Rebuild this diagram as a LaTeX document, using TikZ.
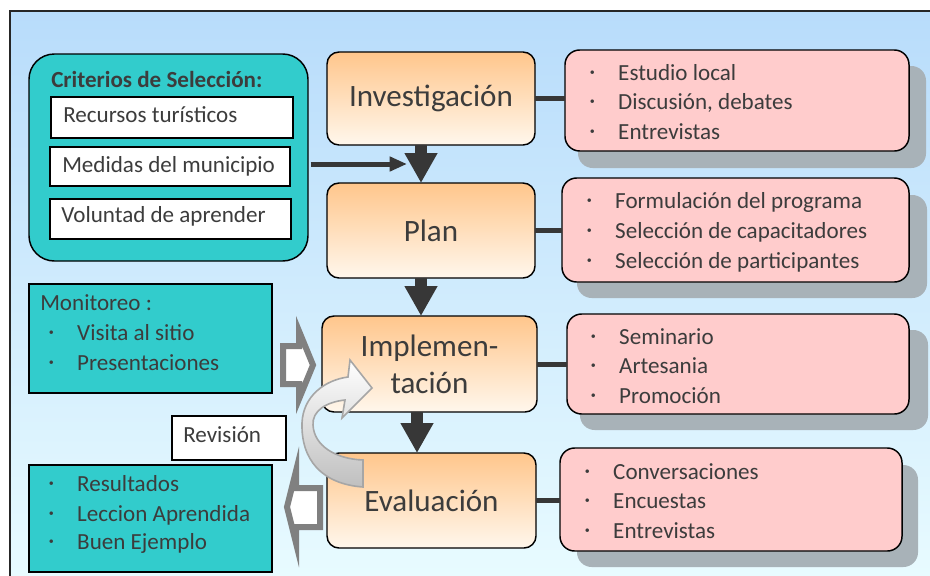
\documentclass[tikz,border=0pt]{standalone}
\usepackage{fontspec}
\setmainfont{Carlito}
\usetikzlibrary{arrows.meta}
\definecolor{teal1}{RGB}{50,204,204}
\definecolor{pink1}{RGB}{255,204,204}
\definecolor{shad}{RGB}{168,178,184}
\definecolor{orT}{RGB}{255,198,140}
\definecolor{orB}{RGB}{255,247,236}
\definecolor{bgT}{RGB}{184,220,251}
\definecolor{bgB}{RGB}{232,251,255}
\definecolor{txt}{RGB}{60,60,60}
\definecolor{dark}{RGB}{55,55,55}
\definecolor{blockgray}{RGB}{128,128,128}
\newcommand\bx[7]{\node[#2,minimum width={(#5-#3)*0.75pt},minimum height={(#6-#4)*0.75pt}] (#1) at ({(#3+#5)/2},{(#4+#6)/2}) {#7};}
\newcommand\bl{\makebox[21.2pt][l]{\raisebox{3.4pt}{\fontsize{7.5}{7.5}\selectfont\textbullet}}}
\newcommand\li[4]{\node[txtline] (#1) at ({#2-2.3},#3) {\bl #4};}
\tikzset{
  box/.style={inner sep=0pt, outer sep=0pt, draw=black, line width=1.1pt},
  critbox/.style={box, fill=teal1, rounded corners=19pt},
  whitebox/.style={box, fill=white, line width=1pt},
  orangebox/.style={box, rounded corners=9pt, top color=orT, bottom color=orB, text=txt, align=center, font=\fontsize{23.3}{27.5}\selectfont},
  pinkbox/.style={box, fill=pink1, rounded corners=11pt},
  shadowbox/.style={inner sep=0pt, outer sep=0pt, fill=shad, rounded corners=11pt},
  tealrect/.style={box, fill=teal1},
  txtline/.style={anchor=base west, inner sep=0pt, text=txt, font=\fontsize{17.3}{20}\selectfont},
  link/.style={draw=dark, line width=3.75pt},
  darrow/.style={draw=dark, line width=9pt, -{Triangle[length=22.5pt,width=23.25pt]}},
  crarrow/.style={draw=dark, line width=3.75pt, -{Triangle[length=13pt,width=10.5pt]}},
  blockarrow/.style={draw=blockgray, line width=4.5pt, fill=white, line join=miter},
  curvearrow/.style={draw=gray!70, line width=1.2pt, top color=white, bottom color=gray!50}
}
\begin{document}
\begin{tikzpicture}[x=0.75pt,y=-0.75pt]
\useasboundingbox (0,0) rectangle (930,575);
\fill[white] (0,0) rectangle (930,575);
\shade[top color=bgT, bottom color=bgB] (10,11) rectangle (932,577);
\draw[line width=1.5pt, black!85] (10,577) -- (10,11) -- (932,11);

% selection criteria
\bx{crit}{critbox}{29}{54}{308}{261}{}
\node[txtline, font=\fontsize{17.3}{20}\selectfont\bfseries] (crittitle) at (51,87) {Criterios de Selección:};
\bx{c1}{whitebox}{51}{97}{293}{138}{}
\node[txtline] (c1t) at (63,122) {Recursos turísticos};
\bx{c2}{whitebox}{50}{147}{290}{186}{}
\node[txtline] (c2t) at (62,172) {Medidas del municipio};
\bx{c3}{whitebox}{50}{199}{291}{239}{}
\node[txtline] (c3t) at (61,222) {Voluntad de aprender};

% stages
\bx{inv}{orangebox}{327}{52}{535}{145}{Investigación}
\bx{plan}{orangebox}{327}{183}{535}{278}{Plan}
\bx{impl}{orangebox}{322}{316}{537}{412}{Implemen-\\tación}
\bx{eval}{orangebox}{327}{453}{536}{548}{Evaluación}

% detail boxes
\bx{s1}{shadowbox}{578}{66}{926}{168}{}
\bx{p1}{pinkbox}{565}{50}{909}{151}{}
\bx{s2}{shadowbox}{577}{195}{927}{298}{}
\bx{p2}{pinkbox}{562}{178}{909}{282}{}
\bx{s3}{shadowbox}{580}{330}{928}{430}{}
\bx{p3}{pinkbox}{567}{314}{909}{414}{}
\bx{s4}{shadowbox}{577}{465}{918}{567}{}
\bx{p4}{pinkbox}{560}{448}{902}{551}{}

\li{p1a}{592}{80}{Estudio local}
\li{p1b}{592}{109}{Discusión, debates}
\li{p1c}{592}{139}{Entrevistas}
\li{p2a}{589}{208}{Formulación del programa}
\li{p2b}{589}{238}{Selección de capacitadores}
\li{p2c}{589}{268}{Selección de participantes}
\li{p3a}{593}{344}{Seminario}
\li{p3b}{593}{373}{Artesania}
\li{p3c}{593}{403}{Promoción}
\li{p4a}{587}{479}{Conversaciones}
\li{p4b}{587}{508}{Encuestas}
\li{p4c}{587}{538}{Entrevistas}

% left boxes
\bx{mon}{tealrect}{29}{284}{272}{393}{}
\node[txtline] (mont) at (40,310) {Monitoreo :};
\li{mona}{51}{340}{Visita al sitio}
\li{monb}{51}{370}{Presentaciones}
\bx{rev}{whitebox}{172}{416}{286}{460}{}
\node[txtline] (revt) at (183,442) {Revisión};
\bx{res}{tealrect}{29}{465}{272}{572}{}
\li{resa}{51}{491}{Resultados}
\li{resb}{51}{521}{Leccion Aprendida}
\li{resc}{51}{549}{Buen Ejemplo}

% connectors
\draw[link] (inv.east) -- (inv.east -| p1.west);
\draw[link] (plan.east) -- (plan.east -| p2.west);
\draw[link] (impl.east) -- (impl.east -| p3.west);
\draw[link] (eval.east) -- (eval.east -| p4.west);
\coordinate (ax) at (421,0);
\coordinate (ax2) at (417,0);
\draw[darrow] (inv.south -| ax) -- (plan.north -| ax);
\draw[darrow] (plan.south -| ax) -- (impl.north -| ax);
\draw[darrow] (impl.south -| ax2) -- (eval.north -| ax2);
\coordinate (m) at (407,164);
\draw[crarrow, shorten <=2pt] (crit.east |- m) -- (m);

% gray block arrows
\draw[blockarrow] (283,346) -- (299,346) -- (299,331) -- (313,365) -- (299,399) -- (299,384) -- (283,384) -- cycle;
\draw[blockarrow] (287,507) -- (296,471) -- (296,488) -- (320,488) -- (320,527) -- (296,527) -- (296,543) -- cycle;

% revision curved arrow
\path[curvearrow] (363,487) .. controls (322,484) and (301,460) .. (302,423)
  .. controls (303,396) and (325,380) .. (348,377) -- (350,360) -- (372,388) -- (342,418) -- (345,400)
  .. controls (326,402) and (312,411) .. (313,425) .. controls (314,446) and (336,459) .. (363,460) -- cycle;
\end{tikzpicture}
\end{document}
